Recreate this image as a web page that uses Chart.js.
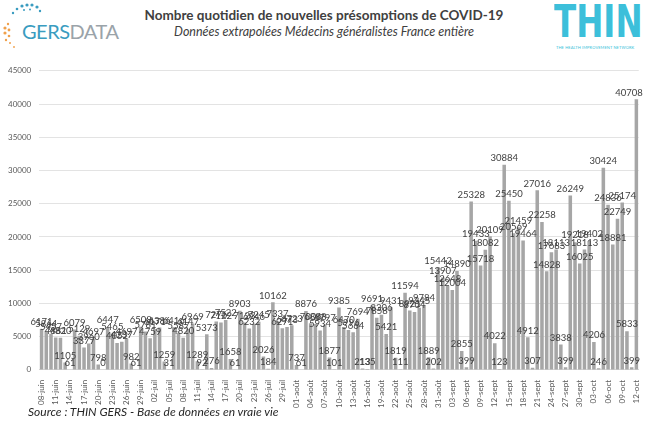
<!DOCTYPE html>
<html>
<head>
<meta charset="utf-8">
<script src="https://cdn.jsdelivr.net/npm/chart.js@4.4.0/dist/chart.umd.min.js"></script>
<style>
body{margin:0;background:#fff;font-family:Lato,"Open Sans",sans-serif;}
#page{position:relative;width:648px;height:424px;overflow:hidden;}
#title{position:absolute;left:0;width:648px;top:7px;text-align:center;font-size:13.5px;font-weight:bold;color:#404040;}
#subtitle{position:absolute;left:0;width:648px;top:24px;text-align:center;font-size:12.5px;font-style:italic;color:#404040;}
#gers{position:absolute;left:22px;top:19px;font-size:20px;letter-spacing:-0.5px;}
#gers .g{color:#3a9cc0;}
#gers .d{color:#9aa3a9;}
#thin{position:absolute;left:554px;top:0px;font-family:"DejaVu Sans Condensed","Liberation Sans",sans-serif;font-size:44px;line-height:44px;font-weight:bold;color:#3cbfda;transform:scaleX(0.82);transform-origin:0 0;}
#thinsub{position:absolute;left:556px;top:45px;font-size:4px;color:#3cbfda;letter-spacing:0.1px;}
#source{position:absolute;left:28px;top:404px;font-size:12px;font-style:italic;color:#262626;}
#wrap{position:absolute;left:0;top:58px;width:648px;height:352px;}
</style>
</head>
<body>
<div id="page">
<svg id="dots" width="60" height="60" style="position:absolute;left:0;top:0">
<g fill="#3a9cc0">
<circle cx="22" cy="6" r="1.6"/><circle cx="27" cy="5" r="1.6"/><circle cx="32" cy="5" r="1.6"/><circle cx="37" cy="7" r="1.6"/>
<circle cx="17" cy="9" r="1.3"/><circle cx="13" cy="13" r="1.2"/><circle cx="40" cy="11" r="1.2"/><circle cx="24" cy="10" r="1"/><circle cx="30" cy="9.5" r="1"/>
</g>
<g fill="#f0a04b">
<circle cx="5" cy="28" r="1.6"/><circle cx="5" cy="33" r="1.6"/><circle cx="9" cy="30" r="1.4"/><circle cx="9" cy="36" r="1.3"/>
<circle cx="6" cy="40" r="1.2"/><circle cx="10" cy="43" r="1"/><circle cx="14" cy="47" r="0.9"/><circle cx="8" cy="24" r="1.2"/>
</g>
</svg>
<div id="gers"><span class="g">GERS</span><span class="d">DATA</span></div>
<div id="title">Nombre quotidien de nouvelles présomptions de COVID-19</div>
<div id="subtitle">Données extrapolées Médecins généralistes France entière</div>
<div id="thin">THIN</div>
<div id="thinsub">THE HEALTH IMPROVEMENT NETWORK</div>
<div id="wrap"><canvas id="myChart"></canvas></div>
<div id="source">Source : THIN GERS - Base de données en vraie vie</div>
</div>
<script>
// months and first/last day shown
var monthNames = ["juin", "juil", "août", "sept", "oct"];
var monthFirst = [8, 1, 1, 1, 1];
var monthLast = [30, 31, 31, 30, 12];

// daily values, 08-juin -> 12-oct
var cases = [
  6171, 5864, 5457, 4881, 4820, 1105, 61,
  6079, 5129, 3377, 3960, 4697, 798, 0,
  6447, 5465, 4052, 4237, 4697, 982, 61,
  6508, 5781, 4759, 6171, 6386, 1259, 31,
  6416, 5587, 4820, 6147, 6969, 1289, 92,
  5373, 276, 7276, 7122, 7522, 1658, 61,
  8903, 7123, 6232, 6946, 7245, 2026, 184,
  10162, 7337, 6271, 6473, 6723, 737, 61,
  8876, 7006, 6888, 5934, 6797, 1877, 101,
  9385, 6470, 5996, 5664, 7694, 213, 135,
  9691, 7858, 8306, 5421, 9431, 1819, 111,
  11594, 8921, 8704, 9345, 9784, 1889, 202,
  15442, 13907, 12648, 12004, 14890, 2855, 399,
  25328, 19433, 15718, 18082, 20109, 4022, 123,
  30884, 25450, 20569, 21459, 19464, 4912, 307,
  27016, 22258, 14828, 17683, 18113, 3838, 399,
  26249, 19218, 16025, 18113, 19402, 4206, 246,
  30424, 24836, 18881, 22749, 25174, 5833, 399,
  40708
];

var yTicks = [0, 5000, 10000, 15000, 20000, 25000, 30000, 35000, 40000, 45000];

var days = [];
for (var m = 0; m < monthNames.length; m++) {
  for (var d = monthFirst[m]; d <= monthLast[m]; d++) {
    days.push((d < 10 ? "0" : "") + d + "-" + monthNames[m]);
  }
}

var barLabels = {
  id: "barLabels",
  afterDatasetsDraw: function(chart) {
    var ctx = chart.ctx;
    var meta = chart.getDatasetMeta(0);
    ctx.save();
    ctx.font = "9.5px Lato, sans-serif";
    ctx.fillStyle = "#404040";
    ctx.textAlign = "center";
    ctx.textBaseline = "bottom";
    meta.data.forEach(function(bar, i) {
      var txt = String(cases[i]);
      var w = ctx.measureText(txt).width;
      var x = Math.min(bar.x, chart.chartArea.right + 4 - w / 2);
      ctx.fillText(txt, x, bar.y - 2);
    });
    ctx.restore();
  }
};

new Chart(document.getElementById("myChart"), {
  type: "bar",
  data: {
    labels: days,
    datasets: [{
      label: "Présomptions",
      data: cases,
      backgroundColor: "#a6a6a6",
      barPercentage: 0.75,
      categoryPercentage: 1.0
    }]
  },
  options: {
    responsive: true,
    maintainAspectRatio: false,
    animation: false,
    layout: { padding: { top: 6, right: 3, left: 0, bottom: 0 } },
    plugins: { legend: { display: false }, tooltip: { enabled: false } },
    scales: {
      x: {
        grid: { display: false },
        border: { color: "#d9d9d9" },
        ticks: {
          autoSkip: false,
          maxRotation: 90,
          minRotation: 90,
          color: "#595959",
          font: { size: 8, family: "Lato, sans-serif" },
          padding: 2,
          callback: function(v, i) { return i % 3 === 0 ? days[i] : ""; }
        }
      },
      y: {
        min: 0,
        max: 45000,
        afterBuildTicks: function(axis) { axis.ticks = yTicks.map(function(v) { return { value: v }; }); },
        grid: { color: "#e3e3e3", drawTicks: false },
        border: { display: false },
        ticks: {
          color: "#595959",
          font: { size: 8, family: "Lato, sans-serif" },
          padding: 8,
          callback: function(v) { return String(v); }
        }
      }
    }
  },
  plugins: [barLabels]
});
</script>
</body>
</html>
